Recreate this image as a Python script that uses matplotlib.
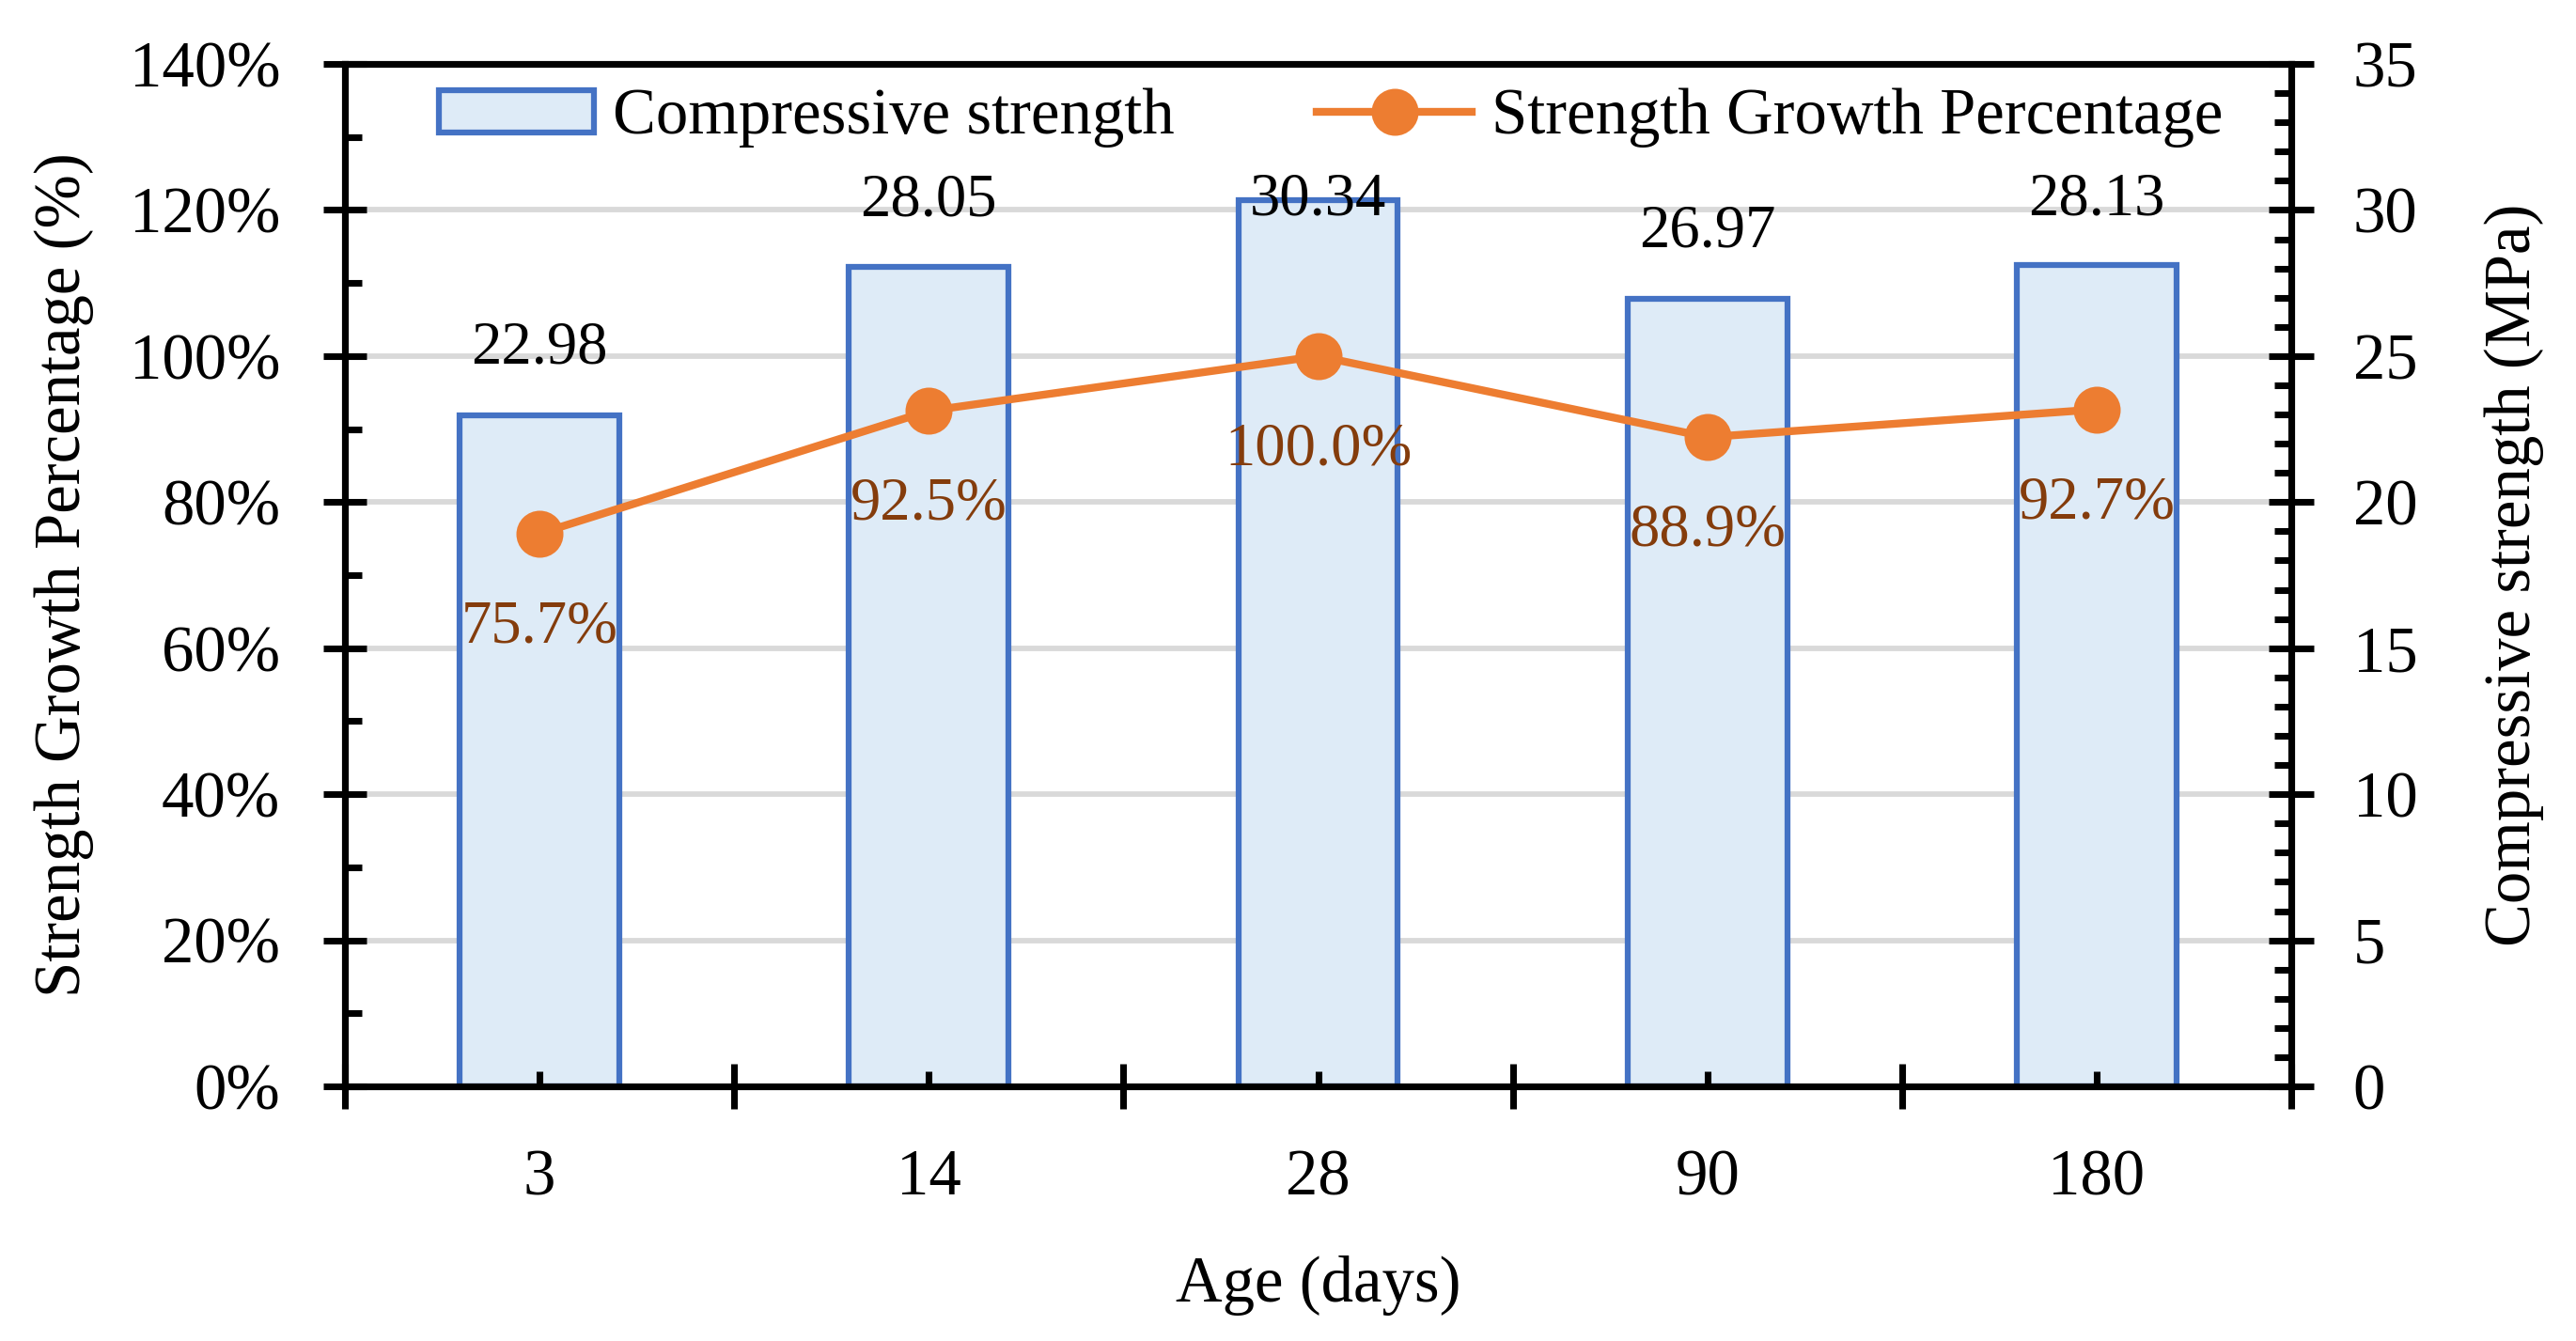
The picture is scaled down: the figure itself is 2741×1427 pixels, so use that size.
import matplotlib
matplotlib.use('Agg')
import matplotlib.pyplot as plt
from matplotlib.ticker import MultipleLocator, FixedLocator, NullFormatter, PercentFormatter
from matplotlib.patches import Patch
from matplotlib.lines import Line2D

plt.rcParams['font.family'] = ['Liberation Serif', 'DejaVu Serif']

# 数据
ages = ['3', '14', '28', '90', '180']
strength_mpa = [22.98, 28.05, 30.34, 26.97, 28.13]
growth_pct = [75.7, 92.5, 100.0, 88.9, 92.7]

BAR_EDGE = '#4472C4'
BAR_FILL = '#DEEBF7'
LINE_C = '#ED7D31'
LABEL_C = '#843C0C'
GRID_C = '#D9D9D9'
LW = 1.7
FS = 16.5

fig = plt.figure(figsize=(2741 / 300, 1427 / 300), dpi=300)
fig.subplots_adjust(left=0.1339, right=0.8895, bottom=0.1899, top=0.9523)
ax1 = fig.add_subplot(111)
ax2 = ax1.twinx()

# 折线放在上层
ax1.set_zorder(ax2.get_zorder() + 1)
ax1.patch.set_visible(False)

x = list(range(len(ages)))

# 柱状图：抗压强度（右轴）
ax2.bar(x, strength_mpa, width=0.41, color=BAR_FILL, edgecolor=BAR_EDGE, linewidth=1.5, zorder=2)
ax2.set_ylim(0, 35)
ax2.yaxis.set_major_locator(MultipleLocator(5))
ax2.yaxis.set_minor_locator(MultipleLocator(1))
ax2.grid(axis='y', color=GRID_C, linewidth=1.4, zorder=0)
ax2.set_axisbelow(True)
for xi, v in zip(x, strength_mpa):
    ax2.annotate(f'{v:.2f}', xy=(xi, min(v, 28.07)), xytext=(0, 17), textcoords='offset points',
                 ha='center', va='center', fontsize=15.5, color='black', zorder=5)

# 折线：强度增长百分比（左轴）
ax1.plot(x, growth_pct, color=LINE_C, linewidth=2.0, marker='o', markersize=11, zorder=3)
ax1.set_ylim(0, 140)
ax1.yaxis.set_major_locator(MultipleLocator(20))
ax1.yaxis.set_minor_locator(MultipleLocator(10))
ax1.yaxis.set_major_formatter(PercentFormatter(xmax=100, decimals=0))
for xi, v in zip(x, growth_pct):
    ax1.annotate(f'{v:.1f}%', xy=(xi, v), xytext=(0, -24), textcoords='offset points',
                 ha='center', va='center', fontsize=15.5, color=LABEL_C, zorder=5)

# x 轴：分类边界为主刻度，中心为次刻度并带标签
ax1.set_xlim(-0.5, len(ages) - 0.5)
ax1.xaxis.set_major_locator(FixedLocator([i - 0.5 for i in range(len(ages) + 1)]))
ax1.xaxis.set_major_formatter(NullFormatter())
ax1.set_xticks(x, ages, minor=True)

for sp in ax1.spines.values():
    sp.set_linewidth(LW)
for sp in ax2.spines.values():
    sp.set_linewidth(LW)

ax1.tick_params(axis='x', which='major', direction='inout', length=11.5, width=LW)
ax1.tick_params(axis='x', which='minor', direction='in', length=3.8, width=LW, pad=16, labelsize=FS)
ax1.tick_params(axis='y', which='major', direction='inout', length=11, width=LW, pad=11, labelsize=FS)
ax1.tick_params(axis='y', which='minor', direction='in', length=4.3, width=LW)
ax2.tick_params(axis='y', which='major', direction='inout', length=11.5, width=LW, pad=10, labelsize=FS)
ax2.tick_params(axis='y', which='minor', direction='in', length=4.3, width=LW)

ax1.set_xlabel('Age (days)', fontsize=FS)
ax1.set_ylabel('Strength Growth Percentage (%)', fontsize=FS)
ax2.set_ylabel('Compressive strength (MPa)', fontsize=FS)
ax1.xaxis.set_label_coords(0.5, -0.165)
ax1.yaxis.set_label_coords(-0.129, 0.5)
ax2.yaxis.set_label_coords(1.099, 0.5)

handles = [
    Patch(facecolor=BAR_FILL, edgecolor=BAR_EDGE, linewidth=1.5, label='Compressive strength'),
    Line2D([0], [0], color=LINE_C, linewidth=2.0, marker='o', markersize=11, label='Strength Growth Percentage'),
]
ax1.legend(handles=handles, loc='center', bbox_to_anchor=(0.5065, 0.947), ncol=2, frameon=False,
           fontsize=FS, handlelength=2.4, handleheight=0.64, handletextpad=0.3, columnspacing=2.2,
           borderaxespad=0)

fig.savefig('out.png', dpi=300)
